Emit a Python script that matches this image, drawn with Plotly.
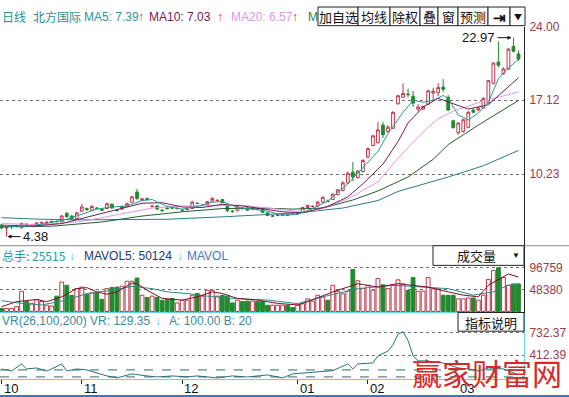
import plotly.graph_objects as go

W, H = 569, 397
FONT = "Liberation Sans, Arial, Noto Sans CJK SC, sans-serif"
CJK = "Noto Sans CJK SC, sans-serif"

# ---------------- data ----------------
opens = [5.46, 5.18, 5.30, 5.40, 5.20, 5.55, 5.40, 5.40, 5.65, 5.70,
         5.72, 5.80, 5.76, 6.55, 6.30, 6.05, 6.75, 7.00, 6.85, 7.05,
         6.95, 7.00, 7.40, 6.85, 6.95, 7.20, 7.60, 8.55, 7.80, 7.95,
         7.20, 7.25, 6.85, 7.05, 7.10, 7.00, 6.85, 6.90, 7.00, 7.50,
         7.30, 7.35, 7.70, 7.75, 7.85, 7.20, 6.75, 6.80, 7.05, 7.05,
         6.95, 6.95, 7.00, 6.60, 6.30, 6.35, 6.35, 6.40, 6.48, 6.55,
         6.70, 7.10, 7.20, 7.25, 7.60, 7.70, 7.85, 8.30, 8.70, 9.40,
         10.40, 9.90, 10.45, 11.80, 12.90, 13.15, 14.80, 14.20, 14.50, 16.80,
         17.40, 17.70, 17.50, 16.30, 16.30, 16.75, 17.80, 17.85, 18.35, 17.40,
         15.20, 14.10, 14.20, 14.60, 16.20, 16.20, 16.40, 16.85, 18.70, 20.70,
         19.60, 20.05, 22.15, 21.45]
highs = [5.55, 5.36, 5.40, 5.50, 5.70, 5.62, 5.50, 5.75, 5.78, 5.80,
         5.85, 5.90, 6.40, 6.70, 6.40, 6.70, 7.45, 7.10, 7.30, 7.15,
         7.00, 7.55, 7.50, 6.95, 7.25, 7.55, 8.20, 8.85, 8.00, 8.00,
         7.35, 7.30, 6.95, 7.15, 7.20, 7.10, 6.95, 7.00, 7.75, 7.60,
         7.40, 7.70, 8.05, 7.90, 7.90, 7.25, 6.85, 7.20, 7.10, 7.10,
         7.05, 7.00, 7.05, 6.65, 6.40, 6.45, 6.45, 6.45, 6.52, 6.60,
         7.15, 7.35, 7.30, 7.70, 8.15, 7.85, 8.40, 8.80, 9.55, 10.45,
         11.35, 10.60, 11.60, 12.70, 13.90, 15.10, 15.10, 14.80, 16.10, 17.60,
         18.70, 18.20, 18.00, 16.75, 16.60, 18.10, 18.30, 18.75, 19.10, 17.60,
         15.30, 14.90, 15.40, 16.10, 16.40, 16.50, 17.40, 19.00, 20.70, 22.62,
         20.20, 22.00, 22.97, 21.80]
lows = [5.10, 4.38, 5.10, 5.30, 5.15, 5.30, 5.30, 5.35, 5.55, 5.62,
        5.65, 5.70, 5.70, 6.15, 5.95, 6.00, 6.70, 6.80, 6.80, 6.95,
        6.80, 6.95, 7.00, 6.70, 6.90, 7.15, 7.55, 7.80, 7.70, 7.80,
        7.10, 6.85, 6.70, 6.90, 6.95, 6.90, 6.70, 6.85, 6.95, 7.40,
        7.20, 7.30, 7.65, 7.65, 7.50, 6.70, 6.60, 6.75, 6.90, 6.80,
        6.90, 6.85, 6.60, 6.30, 6.20, 6.30, 6.30, 6.30, 6.40, 6.45,
        6.65, 7.05, 7.10, 7.20, 7.55, 7.60, 7.80, 8.25, 8.60, 9.30,
        9.55, 9.80, 10.40, 11.70, 12.80, 13.10, 13.60, 14.10, 14.45, 16.70,
        17.35, 17.40, 16.50, 16.10, 16.20, 16.70, 17.10, 17.50, 17.90, 16.10,
        14.50, 13.90, 14.10, 14.50, 15.90, 16.10, 16.35, 16.80, 18.60, 20.20,
        19.50, 19.95, 21.60, 20.80]
closes = [5.18, 5.27, 5.36, 5.42, 5.60, 5.36, 5.42, 5.65, 5.70, 5.72,
          5.80, 5.78, 6.30, 6.25, 6.05, 6.60, 7.15, 6.90, 7.20, 7.02,
          6.85, 7.45, 7.05, 6.83, 7.20, 7.45, 8.10, 7.95, 7.90, 7.84,
          7.22, 6.95, 6.80, 7.00, 7.05, 7.02, 6.85, 6.95, 7.60, 7.48,
          7.30, 7.65, 7.95, 7.76, 7.55, 6.80, 6.74, 7.15, 7.00, 6.85,
          7.00, 6.93, 6.65, 6.35, 6.30, 6.40, 6.38, 6.35, 6.45, 6.56,
          7.10, 7.30, 7.21, 7.60, 8.05, 7.66, 8.35, 8.75, 9.40, 10.30,
          9.95, 10.50, 11.50, 12.60, 13.80, 14.35, 13.90, 14.60, 16.00, 17.55,
          17.75, 17.65, 16.85, 16.50, 16.55, 18.00, 17.95, 18.30, 18.15, 16.20,
          14.55, 15.00, 15.30, 16.00, 16.00, 16.40, 17.30, 18.95, 20.60, 20.40,
          20.05, 21.90, 21.70, 20.97]
volumes = [7000, 7000, 7000, 11000, 45000, 22000, 18000, 26000, 22000, 14000,
           12000, 34000, 65000, 58000, 36000, 51000, 54000, 38000, 41000, 41000,
           27000, 51000, 53000, 54000, 56000, 67000, 67000, 74000, 36000, 31000,
           34000, 31000, 25000, 27000, 29000, 19000, 25000, 25000, 36000, 40000,
           34000, 47000, 47000, 34000, 36000, 34000, 19000, 25000, 22000, 23000,
           23000, 22000, 22000, 14000, 14000, 14000, 14000, 14000, 9000, 14000,
           17000, 28000, 23000, 36000, 32000, 25000, 58000, 45000, 39000, 45000,
           93000, 68000, 51000, 58000, 47000, 73000, 59000, 51000, 58000, 70000,
           61000, 47000, 75000, 45000, 45000, 75000, 50000, 50000, 36000, 36000,
           36000, 28000, 28000, 30000, 30000, 25000, 36000, 71000, 91000, 96759,
           75000, 58000, 61000, 61000]

# moving-average lines, read at sampled bars
ma5_idx = [0, 3, 6, 10, 13, 16, 19, 22, 25, 28, 30, 33, 36, 39, 42, 44, 47, 50, 53, 56,
           59, 62, 65, 69, 72, 75, 77, 80, 82, 84, 86, 88, 89, 91, 93, 95, 97, 99, 100, 102, 103]
ma5_val = [5.45, 5.30, 5.40, 5.70, 6.00, 6.50, 6.95, 7.15, 7.25, 7.75, 7.85, 7.20, 6.95, 7.20, 7.60, 7.65, 7.10, 6.95, 6.75, 6.40,
           6.45, 7.00, 7.70, 9.30, 10.87, 12.34, 14.00, 16.00, 17.12, 16.93, 17.12, 17.57, 17.30, 15.74, 15.28, 15.92, 16.93, 19.13, 19.69, 20.60, 20.97]
ma10_idx = [0, 6, 12, 18, 24, 28, 32, 36, 40, 44, 48, 52, 56, 60, 63, 65, 69, 72, 76, 79,
            81, 84, 87, 91, 93, 97, 100, 103]
ma10_val = [5.45, 5.35, 5.60, 6.30, 7.00, 7.50, 7.55, 7.15, 7.10, 7.40, 7.25, 6.95, 6.70, 6.60, 6.95, 7.20, 8.10, 9.31, 11.15, 13.26,
            15.00, 16.50, 17.30, 16.60, 16.30, 16.70, 18.00, 19.23]
ma20_idx = [0, 8, 16, 24, 30, 36, 42, 48, 54, 60, 63, 69, 75, 79, 82, 85, 87, 90, 95, 100, 103]
ma20_val = [5.60, 5.50, 5.80, 6.50, 7.05, 7.25, 7.25, 7.30, 7.00, 6.70, 6.85, 7.90, 9.50, 11.70, 13.20, 14.60, 15.40, 16.10, 16.90, 17.50, 17.90]
ma30_idx = [0, 10, 20, 28, 36, 44, 52, 58, 64, 70, 75, 81, 86, 89, 95, 103]
ma30_val = [5.30, 5.35, 5.75, 6.30, 6.70, 7.00, 7.05, 6.95, 7.05, 7.80, 8.65, 9.95, 11.60, 12.98, 14.80, 17.10]
ma60_idx = [0, 8, 16, 24, 33, 45, 55, 59, 68, 75, 79, 86, 89, 96, 103]
ma60_val = [6.15, 6.00, 5.95, 5.95, 6.00, 6.25, 6.50, 6.60, 7.05, 7.75, 8.60, 9.50, 9.95, 11.00, 12.43]

mavol5_idx = [0, 3, 7, 9, 12, 15, 17, 19, 21, 23, 26, 27, 29, 32, 36, 39, 42, 44, 47, 51,
              55, 59, 61, 66, 71, 75, 79, 82, 85, 89, 92, 95, 97, 101, 103]
mavol5_val = [10800, 21700, 26700, 21700, 32500, 50600, 52800, 43400, 38300, 43400, 63000, 61500, 47000, 29000, 25300, 32500, 43400, 39800, 29000, 25300,
              18000, 14500, 21700, 43400, 61500, 54000, 61500, 58000, 54000, 43400, 36200, 32500, 58000, 83000, 76000]
mavol10_idx = [0, 4, 8, 13, 17, 22, 26, 30, 33, 37, 41, 46, 53, 59, 64, 71, 78, 84, 89, 94, 98, 101, 103]
mavol10_val = [23900, 18000, 14500, 25300, 39800, 47000, 55700, 50600, 43400, 39800, 34000, 29000, 25300, 17500, 32500, 50600, 58000, 54000, 50600, 36200, 43400, 58000, 61500]

vr_idx = [0, 2, 4, 5, 7, 9, 10, 12, 13, 15, 17, 19, 21, 23, 26, 29, 31, 34, 37, 39,
          43, 46, 49, 53, 56, 58, 61, 66, 69, 70, 71, 74, 75, 76, 77, 78, 79, 80, 81, 82,
          83, 85, 88, 91, 93, 95, 97, 100, 103]
vr_val = [214, 185, 285, 214, 228, 185, 214, 285, 185, 214, 200, 157, 114, 86, 143, 114, 100, 114, 100, 114,
          86, 114, 100, 128, 86, 143, 157, 190, 285, 214, 285, 300, 400, 440, 470, 560, 710, 745, 620, 400,
          330, 327, 299, 228, 214, 185, 228, 214, 130]
vr_levels = [100, 200]

month_labels = ["10", "11", "12", "01", "02", "03"]
month_idx = [0, 16, 36, 59, 73, 91]

price_ticks = [10.23, 17.12, 24.00]
vol_ticks = [48380, 96759]
vr_ticks = [412.39, 732.37]

# ---------------- styling ----------------
UP = '#c0354a'
DN = '#22892e'
AXC = '#9a3a4a'
CYAN = '#62d4e4'


def px(v):
    return v / W


def py(v):
    return 1 - v / H


n = len(closes)
xs = list(range(n))
fig = go.Figure()

fig.add_trace(go.Candlestick(
    x=xs, open=opens, high=highs, low=lows, close=closes,
    increasing=dict(line=dict(color=UP, width=1), fillcolor='white'),
    decreasing=dict(line=dict(color=DN, width=1), fillcolor=DN),
    whiskerwidth=0, yaxis='y', showlegend=False, hoverinfo='skip'))

for idx, vals, col in [(ma60_idx, ma60_val, '#2d7c80'),
                       (ma30_idx, ma30_val, '#1f5f2f'),
                       (ma20_idx, ma20_val, '#e296e2'),
                       (ma10_idx, ma10_val, '#6e1d55'),
                       (ma5_idx, ma5_val, '#2e9696')]:
    fig.add_trace(go.Scatter(x=idx, y=vals, mode='lines', line=dict(color=col, width=1),
                             yaxis='y', hoverinfo='skip', showlegend=False))

up = [c >= o for o, c in zip(opens, closes)]
fig.add_trace(go.Bar(x=xs, y=volumes, width=0.76, yaxis='y2', hoverinfo='skip', showlegend=False,
                     marker=dict(color=['white' if u else DN for u in up],
                                 line=dict(color=[UP if u else DN for u in up], width=1))))
fig.add_trace(go.Scatter(x=mavol10_idx, y=mavol10_val, mode='lines', line=dict(color='#2e8a8a', width=1),
                         yaxis='y2', hoverinfo='skip', showlegend=False))
fig.add_trace(go.Scatter(x=mavol5_idx, y=mavol5_val, mode='lines', line=dict(color='#7a1020', width=1),
                         yaxis='y2', hoverinfo='skip', showlegend=False))

fig.add_trace(go.Scatter(x=vr_idx, y=vr_val, mode='lines', line=dict(color='#2b7272', width=1),
                         yaxis='y3', hoverinfo='skip', showlegend=False))

tickfont = dict(color=AXC, size=12, family=FONT)
common_y = dict(side='right', anchor='x', showgrid=True, gridcolor='#707070', griddash='dot', gridwidth=1,
                zeroline=False, ticks='', ticklen=0, ticklabelstandoff=2, tickfont=tickfont,
                showline=True, fixedrange=True)

fig.update_layout(
    width=W, height=H, margin=dict(l=0, r=0, t=0, b=0),
    paper_bgcolor='white', plot_bgcolor='white', showlegend=False, boxgap=0.22, bargap=0.2,
    xaxis=dict(domain=[0, px(524)], range=[-0.3, 104.1], anchor='y3', rangeslider=dict(visible=False),
               showgrid=False, zeroline=False, tickvals=month_idx, ticks='outside', ticklen=4,
               tickcolor='#222', tickwidth=1, showticklabels=False, showline=True, linecolor=CYAN,
               linewidth=1, fixedrange=True),
    yaxis=dict(domain=[py(243), py(20)], range=[3.53, 24.0], tickvals=price_ticks,
               ticktext=[f'{v:.2f}' for v in price_ticks], linecolor='#222', **common_y),
    yaxis2=dict(domain=[py(311), py(243)], range=[-2170, 145400], tickvals=vol_ticks,
                ticktext=[str(v) for v in vol_ticks], linecolor='#222', **common_y),
    yaxis3=dict(domain=[py(379), py(311)], range=[65.8, 1020], tickvals=vr_ticks,
                ticktext=[f'{v:.2f}' for v in vr_ticks], linecolor=CYAN, **common_y),
)

shapes = []
for lv in vr_levels:
    shapes.append(dict(type='line', xref='x domain', x0=0, x1=1, yref='y3', y0=lv, y1=lv,
                       line=dict(color='#2b6b6b', width=1, dash='dash'), layer='below'))
# pane separators
shapes.append(dict(type='line', xref='paper', yref='paper', x0=0, x1=1, y0=py(243), y1=py(243),
                   line=dict(color='#8a8a8a', width=1)))
shapes.append(dict(type='line', xref='paper', yref='paper', x0=0, x1=px(524), y0=py(311), y1=py(311),
                   line=dict(color=CYAN, width=1)))
shapes.append(dict(type='line', xref='paper', yref='paper', x0=0, x1=1, y0=py(396), y1=py(396),
                   line=dict(color='#3f6fcf', width=2)))

annotations = []


def txt(s, x, y, color, size=12, family=FONT, anchor='left'):
    annotations.append(dict(text=s, x=px(x), y=py(y), xref='paper', yref='paper', xanchor=anchor,
                            yanchor='middle', showarrow=False,
                            font=dict(color=color, size=size, family=family)))


# header
txt('日线', 0, 10, '#2a8f8f', 12, CJK)
txt('北方国际', 31, 10, '#2a8f8f', 12, CJK)
txt('MA5: 7.39', 82, 10, '#2e9696')
txt('<b>↑</b>', 136, 10, '#e02828')
txt('MA10: 7.03', 147, 10, '#6e1d55')
txt('<b>↑</b>', 215, 10, '#e02828')
txt('MA20: 6.57', 229, 10, '#e296e2')
txt('<b>↑</b>', 290, 10, '#e02828')
txt('M', 306, 10, '#2f7f3f')

buttons = [('加自选', 318, 358), ('均线', 358, 390), ('除权', 390, 420), ('叠', 420, 438),
           ('窗', 438, 458), ('预测', 458, 488), ('<b>⇥</b>', 488, 510), ('▼', 510, 525)]
for label, x0, x1 in buttons:
    shapes.append(dict(type='rect', xref='paper', yref='paper', x0=px(x0), x1=px(x1), y0=py(19), y1=py(0),
                       line=dict(color='#222', width=1), fillcolor='white'))
    size = 8 if label == '▼' else (15 if 'b' in label else 13)
    txt(label, (x0 + x1) / 2, 10, '#111', size, CJK, 'center')

# volume header
txt('总手: 25515', 0, 253, '#2a9a9a', 12, CJK)
txt('<b>↓</b>', 67, 253, '#5ec8ee')
txt('MAVOL5: 50124', 82, 253, '#23376a')
txt('<b>↓</b>', 175, 253, '#5ec8ee')
txt('MAVOL', 185, 253, '#4a78b8')
shapes.append(dict(type='rect', xref='paper', yref='paper', x0=px(433), x1=px(524), y0=py(263), y1=py(243),
                   line=dict(color='#222', width=1), fillcolor='white'))
txt('成交量', 477, 253, '#111', 13, CJK, 'center')
txt('▼', 516, 253, '#111', 8, FONT, 'center')

# VR header
txt('VR(26,100,200) VR: 129.35', 0, 320, '#3a8c9c')
txt('<b>↓</b>', 153, 320, '#5ec8ee')
txt('A: 100.00 B: 20', 167, 320, '#3a8c9c')
shapes.append(dict(type='rect', xref='paper', yref='paper', x0=px(458), x1=px(524), y0=py(330), y1=py(311),
                   line=dict(color='#222', width=1), fillcolor='white'))
txt('指标说明', 491, 321, '#111', 13, CJK, 'center')

# month labels
for lab, i in zip(month_labels, month_idx):
    annotations.append(dict(text=lab, x=i, xref='x', y=py(388), yref='paper', xanchor='left', yanchor='middle',
                            xshift=0, showarrow=False, font=dict(color='#111', size=13, family=FONT)))

# high / low markers
hi_i = highs.index(max(highs))
lo_i = lows.index(min(lows))
annotations.append(dict(text=f'{max(highs):.2f}', x=hi_i, y=max(highs), xref='x', yref='y', ax=-16, ay=0,
                        xanchor='right', showarrow=True, arrowhead=2, arrowsize=0.8, arrowwidth=1,
                        arrowcolor='#111', standoff=2, font=dict(color='#111', size=13, family=FONT)))
annotations.append(dict(text=f'{min(lows):.2f}', x=lo_i, y=min(lows), xref='x', yref='y', ax=14, ay=0,
                        xanchor='left', showarrow=True, arrowhead=2, arrowsize=0.8, arrowwidth=1,
                        arrowcolor='#111', standoff=1, font=dict(color='#111', size=13, family=FONT)))

# watermark
txt('赢家财富网', 487, 372, '#d32a2a', 30, CJK, 'center')

fig.update_layout(shapes=shapes, annotations=annotations)
fig.write_html('out.html', config={'displayModeBar': False},
               post_script="document.body.style.margin='0px';document.body.style.padding='0px';")
